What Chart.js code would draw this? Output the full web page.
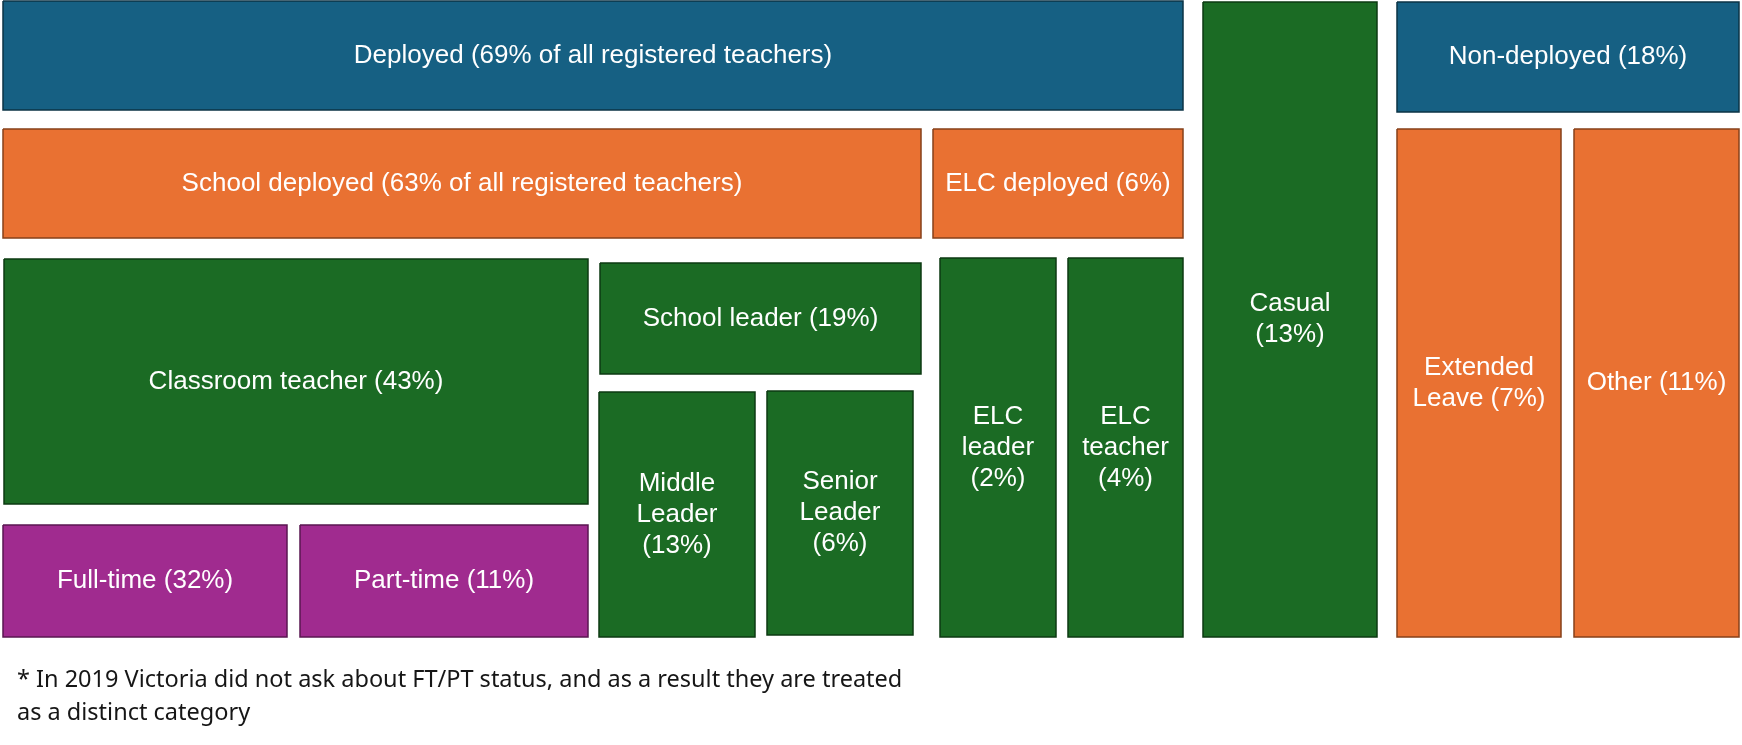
<!DOCTYPE html>
<html>
<head>
<meta charset="utf-8">
<title>Registered teachers by deployment</title>
<style>
    html, body { margin: 0; padding: 0; background: #fff; }
    #wrap { width: 1742px; height: 745px; position: relative; }
</style>
<script src="https://cdn.jsdelivr.net/npm/chart.js@4.4.1/dist/chart.umd.min.js"></script>
</head>
<body>
<div id="wrap"><canvas id="teachers"></canvas></div>
<script>
    "use strict";

    // Categories and their share of all registered teachers
    var boxNames = ["Deployed", "Non-deployed", "Casual", "School deployed", "ELC deployed",
        "Extended Leave", "Other", "Classroom teacher", "School leader", "Middle Leader",
        "Senior Leader", "ELC leader", "ELC teacher", "Full-time", "Part-time"];
    var boxShares = [69, 18, 13, 63, 6, 7, 11, 43, 19, 13, 6, 2, 4, 32, 11];
    var boxNotes = ["of all registered teachers", "", "", "of all registered teachers", "",
        "", "", "", "", "", "", "", "", "", ""];
    var boxGroups = ["status", "status", "role", "setting", "setting", "setting", "setting",
        "role", "role", "role", "role", "role", "role", "hours", "hours"];

    var footnote = [
        "* In 2019 Victoria did not ask about FT/PT status, and as a result they are treated",
        "as a distinct category"
    ];

    // Layout of the boxes, in chart units (x: 0-1742, y: 0-745 downwards)
    var boxLeft   = [3, 1397, 1203, 3, 933, 1397, 1574, 4, 600, 599, 767, 940, 1068, 3, 300];
    var boxRight  = [1183, 1739, 1377, 921, 1183, 1561, 1739, 588, 921, 755, 913, 1056, 1183, 287, 588];
    var boxTop    = [1, 2, 2, 129, 129, 129, 129, 259, 263, 392, 391, 258, 258, 525, 525];
    var boxBottom = [110, 112, 637, 238, 238, 637, 637, 504, 374, 637, 635, 637, 637, 637, 637];

    var groupFill = { status: "#166083", setting: "#E97132", role: "#1B6B24", hours: "#A02B8F" };
    var groupEdge = { status: "#0b3346", setting: "#86401a", role: "#0c3a12", hours: "#5a1751" };

    function boxText(i) {
        var note = boxNotes[i] ? " " + boxNotes[i] : "";
        return boxNames[i] + " (" + boxShares[i] + "%" + note + ")";
    }

    function wrapWords(ctx, text, maxWidth) {
        var words = text.split(" ");
        var lines = [];
        var line = "";
        words.forEach(function (w) {
            var test = line ? line + " " + w : w;
            if (line && ctx.measureText(test).width > maxWidth) {
                lines.push(line);
                line = w;
            } else {
                line = test;
            }
        });
        if (line) lines.push(line);
        return lines;
    }

    // Box labels and footnote, placed through the chart scales
    var labelPlugin = {
        id: "boxLabels",
        afterDatasetsDraw: function (chart) {
            var ctx = chart.ctx;
            var xs = chart.scales.x;
            var ys = chart.scales.y;
            ctx.save();
            ctx.fillStyle = "#ffffff";
            ctx.font = '26px "Liberation Sans", Arial, sans-serif';
            ctx.textAlign = "center";
            ctx.textBaseline = "middle";
            boxNames.forEach(function (name, i) {
                var left = xs.getPixelForValue(boxLeft[i]);
                var right = xs.getPixelForValue(boxRight[i]);
                var cx = (left + right) / 2;
                var cy = (ys.getPixelForValue(boxTop[i]) + ys.getPixelForValue(boxBottom[i])) / 2;
                var lines = wrapWords(ctx, boxText(i), Math.abs(right - left) - 20);
                var lh = 31;
                lines.forEach(function (ln, k) {
                    ctx.fillText(ln, cx, cy + (k - (lines.length - 1) / 2) * lh);
                });
            });

            ctx.fillStyle = "#161616";
            ctx.font = '23.5px "Noto Sans", sans-serif';
            ctx.textAlign = "left";
            ctx.textBaseline = "alphabetic";
            footnote.forEach(function (ln, k) {
                ctx.fillText(ln, xs.getPixelForValue(17), ys.getPixelForValue(687 + k * 33));
            });
            ctx.restore();
        }
    };

    var datasets = boxNames.map(function (name, i) {
        var g = boxGroups[i];
        return {
            label: boxText(i),
            data: [
                { x: boxLeft[i], y: boxTop[i] },
                { x: boxRight[i], y: boxTop[i] },
                { x: boxRight[i], y: boxBottom[i] },
                { x: boxLeft[i], y: boxBottom[i] },
                { x: boxLeft[i], y: boxTop[i] }
            ],
            showLine: true,
            fill: "shape",
            backgroundColor: groupFill[g],
            borderColor: groupEdge[g],
            borderWidth: 1.5,
            borderJoinStyle: "miter",
            pointRadius: 0,
            pointHoverRadius: 0,
            tension: 0,
            clip: false
        };
    });

    var ctx1 = document.getElementById("teachers").getContext("2d");
    var myChart1 = new Chart(ctx1, {
        type: "scatter",
        data: { datasets: datasets },
        options: {
            responsive: true,
            maintainAspectRatio: false,
            animation: false,
            layout: { padding: 0 },
            plugins: {
                legend: { display: false },
                tooltip: { enabled: false }
            },
            scales: {
                x: { type: "linear", min: 0, max: 1742, display: false },
                y: { type: "linear", min: 0, max: 745, reverse: true, display: false }
            }
        },
        plugins: [labelPlugin]
    });
</script>
</body>
</html>
